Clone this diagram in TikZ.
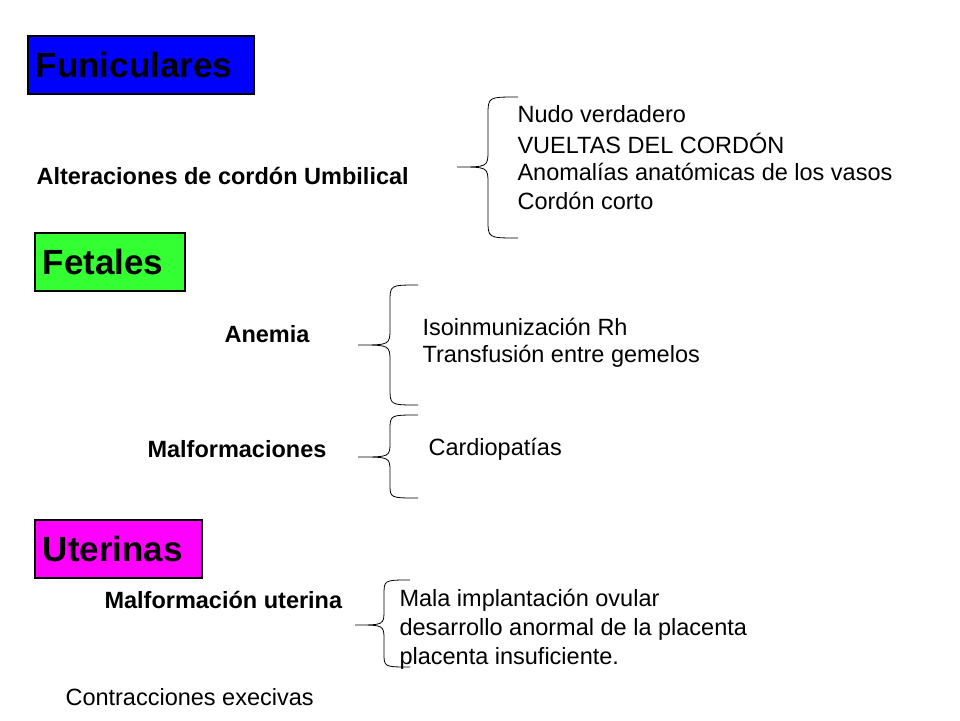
\documentclass[tikz,border=0pt]{standalone}
\usepackage{fontspec}
\setmainfont{Liberation Sans}
\definecolor{limegreen}{RGB}{51,255,51}
\definecolor{pinkmag}{RGB}{255,0,255}
\begin{document}
\begin{tikzpicture}[
    x=1pt, y=-1pt,
    head/.style = {draw, line width=1.5pt, anchor=west, minimum height=58pt, inner xsep=8pt, align=left, font=\bfseries\fontsize{35}{40}\selectfont},
    lbl/.style = {anchor=west, font=\bfseries\fontsize{23.5}{28}\selectfont},
    item/.style = {anchor=west, font=\fontsize{23.5}{28}\selectfont},
    brace/.style = {draw, line width=0.8pt}
  ]
    \useasboundingbox (0,0) rectangle (960,720);
    % headings
    \node[head, fill=blue, text width=210pt] (fun) at (27,65) {Funiculares};
    \node[head, fill=limegreen, text width=134pt] (fet) at (34,262) {Fetales};
    \node[head, fill=pinkmag, text width=151pt] (ute) at (34,549) {Uterinas};
    % cordon
    \node[lbl] (cord) at (33,176) {Alteraciones de cordón Umbilical};
    \draw[brace] (518,97) .. controls (488,97) .. (488,115) -- (488,150) .. controls (488,167) .. (457,167)
                 .. controls (488,167) .. (488,184) -- (488,220) .. controls (488,238) .. (518,238);
    \node[item] (c1) at (514,114) {Nudo verdadero};
    \node[item] (c2) at (514,143) {VUELTAS DEL CORDÓN};
    \node[item] (c3) at (514,172) {Anomalías anatómicas de los vasos};
    \node[item] (c4) at (514,201) {Cordón corto};
    % anemia
    \node[lbl] (anem) at (221,334) {Anemia};
    \draw[brace] (418,285) .. controls (390,285) .. (390,302) -- (390,328) .. controls (390,345) .. (358,345)
                 .. controls (390,345) .. (390,362) -- (390,388) .. controls (390,405) .. (418,405);
    \node[item] (a1) at (419,327) {Isoinmunización Rh};
    \node[item] (a2) at (419,356) {Transfusión entre gemelos};
    % malformaciones
    \node[lbl] (malf) at (144,449) {Malformaciones};
    \draw[brace] (418,415) .. controls (390,415) .. (390,430) -- (390,442) .. controls (390,457) .. (358,457)
                 .. controls (390,457) .. (390,472) -- (390,484) .. controls (390,498) .. (418,498);
    \node[item] (m1) at (425,449) {Cardiopatías};
    % uterina
    \node[lbl] (mut) at (101,600) {Malformación uterina};
    \draw[brace] (410,580) .. controls (384,580) .. (384,595) -- (384,610) .. controls (384,625) .. (355,625)
                 .. controls (384,625) .. (384,640) -- (384,653) .. controls (384,667) .. (410,667);
    \node[item] (u1) at (396,600) {Mala implantación ovular};
    \node[item] (u2) at (396,629) {desarrollo anormal de la placenta};
    \node[item] (u3) at (396,658) {placenta insuficiente.};
    \node[item] (cont) at (62,697) {Contracciones execivas};
\end{tikzpicture}
\end{document}
